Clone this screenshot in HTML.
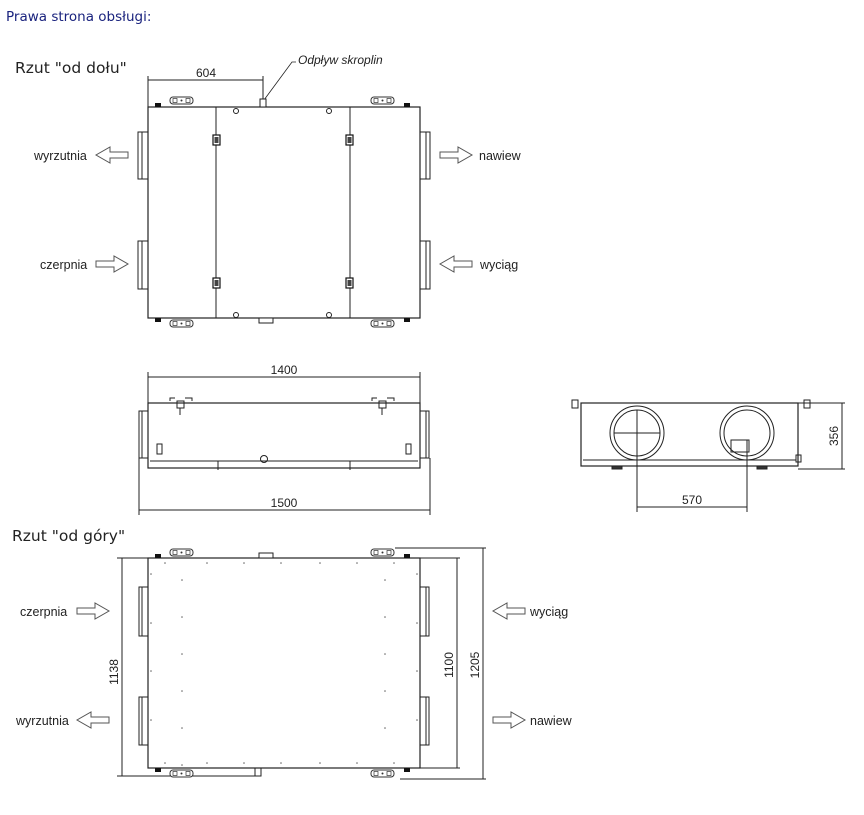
<!DOCTYPE html>
<html><head><meta charset="utf-8"><style>
html,body{margin:0;padding:0;background:#fff;width:864px;height:815px;overflow:hidden}
svg{display:block}
text{font-family:"Liberation Sans",Arial,sans-serif;fill:#222}
</style></head><body>
<svg width="864" height="815" viewBox="0 0 864 815" xmlns="http://www.w3.org/2000/svg">
<defs>
<g id="arrR"><path d="M0,-3 H18 V-8 L32,0 L18,8 V3 H0 Z" fill="#fff" stroke="#555" stroke-width="1"/></g>
<g id="arrL"><path d="M32,-3 H14 V-8 L0,0 L14,8 V3 H32 Z" fill="#fff" stroke="#555" stroke-width="1"/></g>
<g id="brk"><rect x="0" y="0" width="23" height="7" rx="3" fill="#fff" stroke="#333" stroke-width="1"/><rect x="3" y="1.5" width="4" height="4" fill="none" stroke="#333" stroke-width="0.7"/><rect x="16" y="1.5" width="4" height="4" fill="none" stroke="#333" stroke-width="0.7"/><circle cx="11.5" cy="3.5" r="1" fill="#333"/></g>
<g id="hinge"><rect x="0" y="0" width="7" height="10" fill="#fff" stroke="#111" stroke-width="1.2"/><rect x="1.5" y="2" width="4" height="6" fill="#444"/></g>
</defs>
<text x="6" y="21" font-size="13.5" style="font-family:'DejaVu Sans',sans-serif;fill:#1a237e" >Prawa strona obsługi:</text>

<!-- TOP VIEW -->
<text x="15" y="73" font-size="15.5" style="font-family:'DejaVu Sans',sans-serif;fill:#222">Rzut "od dołu"</text>
<g stroke="#222" stroke-width="1" fill="none">
<line x1="148" y1="76" x2="148" y2="107"/><line x1="263" y1="76" x2="263" y2="100"/>
<line x1="148" y1="80" x2="263" y2="80"/>
<path d="M264,100 L292,62 L296,62" stroke-width="0.8"/>
<rect x="148" y="107" width="272" height="211" stroke-width="1.2"/>
<line x1="216" y1="107" x2="216" y2="318"/><line x1="350" y1="107" x2="350" y2="318"/>
<rect x="260" y="99" width="6" height="8" fill="#fff"/>
<rect x="138" y="132" width="10" height="47"/><line x1="142" y1="132" x2="142" y2="179"/>
<rect x="138" y="241" width="10" height="48"/><line x1="142" y1="241" x2="142" y2="289"/>
<rect x="420" y="132" width="10" height="47"/><line x1="426" y1="132" x2="426" y2="179"/>
<rect x="420" y="241" width="10" height="48"/><line x1="426" y1="241" x2="426" y2="289"/>
<circle cx="236" cy="111" r="2.5"/><circle cx="329" cy="111" r="2.5"/>
<circle cx="236" cy="315" r="2.5"/><circle cx="329" cy="315" r="2.5"/>
</g>
<use href="#brk" x="170" y="97"/><use href="#brk" x="371" y="97"/>
<use href="#brk" x="170" y="320"/><use href="#brk" x="371" y="320"/>
<rect x="155" y="103" width="6" height="4" fill="#111"/><rect x="404" y="103" width="6" height="4" fill="#111"/>
<rect x="155" y="318" width="6" height="4" fill="#111"/><rect x="404" y="318" width="6" height="4" fill="#111"/>
<rect x="259" y="318" width="14" height="5" fill="#fff" stroke="#222"/>
<use href="#hinge" x="213" y="135"/><use href="#hinge" x="213" y="278"/>
<use href="#hinge" x="346" y="135"/><use href="#hinge" x="346" y="278"/>
<text x="206" y="77" font-size="12" text-anchor="middle">604</text>
<text x="298" y="64" font-size="12" font-style="italic">Odpływ skroplin</text>
<text x="34" y="160" font-size="12.5">wyrzutnia</text><use href="#arrL" x="96" y="155"/>
<text x="40" y="269" font-size="12.5">czerpnia</text><use href="#arrR" x="96" y="264"/>
<use href="#arrR" x="440" y="155"/><text x="479" y="160" font-size="12.5">nawiew</text>
<use href="#arrL" x="440" y="264"/><text x="480" y="269" font-size="12.5">wyciąg</text>

<!-- FRONT VIEW -->
<g stroke="#222" stroke-width="1" fill="none">
<line x1="148" y1="372" x2="148" y2="403"/><line x1="420" y1="372" x2="420" y2="403"/>
<line x1="148" y1="377" x2="420" y2="377"/>
<rect x="148" y="403" width="272" height="65" stroke-width="1.2"/>
<line x1="150" y1="461" x2="418" y2="461"/>
<rect x="139" y="411" width="9" height="47"/><line x1="142" y1="411" x2="142" y2="458"/>
<rect x="420" y="411" width="9" height="47"/><line x1="426" y1="411" x2="426" y2="458"/>
<line x1="139" y1="458" x2="139" y2="515"/><line x1="430" y1="458" x2="430" y2="515"/>
<line x1="139" y1="510" x2="430" y2="510"/>
<circle cx="264" cy="459" r="3.5"/>
<path d="M170,401 V398 H175 M185,398 H192 V401"/><rect x="177" y="401" width="7" height="7"/><line x1="180" y1="408" x2="180" y2="415"/>
<path d="M372,401 V398 H377 M387,398 H394 V401"/><rect x="379" y="401" width="7" height="7"/><line x1="382" y1="408" x2="382" y2="415"/>
<rect x="157" y="444" width="5" height="10"/><rect x="406" y="444" width="5" height="10"/>
<line x1="218" y1="461" x2="218" y2="470"/><line x1="350" y1="461" x2="350" y2="470"/>
</g>
<text x="284" y="374" font-size="12" text-anchor="middle">1400</text>
<text x="284" y="507" font-size="12" text-anchor="middle">1500</text>

<!-- SIDE VIEW -->
<g stroke="#222" stroke-width="1" fill="none">
<rect x="581" y="403" width="217" height="63" stroke-width="1.2"/>
<line x1="583" y1="460" x2="796" y2="460"/>
<circle cx="637" cy="433" r="27"/><circle cx="637" cy="433" r="23"/>
<line x1="614" y1="433" x2="660" y2="433"/><line x1="637" y1="410" x2="637" y2="456"/>
<circle cx="747" cy="433" r="27"/><circle cx="747" cy="433" r="23"/>
<rect x="731" y="440" width="18" height="12"/>
<line x1="637" y1="456" x2="637" y2="512"/><line x1="747" y1="440" x2="747" y2="512"/>
<line x1="637" y1="507" x2="747" y2="507"/>
<line x1="798" y1="403" x2="845" y2="403"/><line x1="798" y1="469" x2="845" y2="469"/>
<line x1="842" y1="403" x2="842" y2="469"/>
<rect x="572" y="400" width="6" height="8"/><rect x="804" y="400" width="6" height="8"/>
<rect x="796" y="455" width="5" height="7"/>
<rect x="612" y="466" width="10" height="3" fill="#333"/><rect x="757" y="466" width="10" height="3" fill="#333"/>
</g>
<text x="692" y="504" font-size="12" text-anchor="middle">570</text>
<text x="0" y="0" font-size="12" text-anchor="middle" transform="translate(838,436) rotate(-90)">356</text>

<!-- BOTTOM VIEW -->
<text x="12" y="541" font-size="15.5" style="font-family:'DejaVu Sans',sans-serif;fill:#222">Rzut "od góry"</text>
<g stroke="#222" stroke-width="1" fill="none">
<rect x="148" y="558" width="272" height="210" stroke-width="1.2"/>
<rect x="139" y="587" width="9" height="49"/><line x1="142" y1="587" x2="142" y2="636"/>
<rect x="139" y="697" width="9" height="48"/><line x1="142" y1="697" x2="142" y2="745"/>
<rect x="420" y="587" width="9" height="49"/><line x1="426" y1="587" x2="426" y2="636"/>
<rect x="420" y="697" width="9" height="48"/><line x1="426" y1="697" x2="426" y2="745"/>
<line x1="117" y1="558" x2="148" y2="558"/><line x1="117" y1="776" x2="255" y2="776"/>
<line x1="122" y1="558" x2="122" y2="776"/>
<line x1="420" y1="558" x2="460" y2="558"/><line x1="420" y1="768" x2="460" y2="768"/>
<line x1="457" y1="558" x2="457" y2="768"/>
<line x1="395" y1="548" x2="486" y2="548"/><line x1="400" y1="779" x2="486" y2="779"/>
<line x1="483" y1="548" x2="483" y2="779"/>
<rect x="255" y="768" width="6" height="8"/>
<rect x="259" y="553" width="14" height="5" fill="#fff"/>
</g>
<g fill="#666">
<circle cx="165" cy="563" r="0.8"/><circle cx="207" cy="563" r="0.8"/><circle cx="244" cy="563" r="0.8"/><circle cx="281" cy="563" r="0.8"/><circle cx="320" cy="563" r="0.8"/><circle cx="357" cy="563" r="0.8"/><circle cx="394" cy="563" r="0.8"/>
<circle cx="165" cy="763" r="0.8"/><circle cx="207" cy="763" r="0.8"/><circle cx="244" cy="763" r="0.8"/><circle cx="281" cy="763" r="0.8"/><circle cx="320" cy="763" r="0.8"/><circle cx="357" cy="763" r="0.8"/><circle cx="394" cy="763" r="0.8"/>
<circle cx="182" cy="580" r="0.8"/><circle cx="182" cy="617" r="0.8"/><circle cx="182" cy="654" r="0.8"/><circle cx="182" cy="691" r="0.8"/><circle cx="182" cy="728" r="0.8"/><circle cx="182" cy="765" r="0.8"/>
<circle cx="385" cy="580" r="0.8"/><circle cx="385" cy="617" r="0.8"/><circle cx="385" cy="654" r="0.8"/><circle cx="385" cy="691" r="0.8"/><circle cx="385" cy="728" r="0.8"/>
<circle cx="151" cy="574" r="0.8"/><circle cx="151" cy="623" r="0.8"/><circle cx="151" cy="671" r="0.8"/><circle cx="151" cy="720" r="0.8"/>
<circle cx="417" cy="574" r="0.8"/><circle cx="417" cy="623" r="0.8"/><circle cx="417" cy="671" r="0.8"/><circle cx="417" cy="720" r="0.8"/>
</g>
<use href="#brk" x="170" y="549"/><use href="#brk" x="371" y="549"/>
<use href="#brk" x="170" y="770"/><use href="#brk" x="371" y="770"/>
<rect x="155" y="554" width="6" height="4" fill="#111"/><rect x="404" y="554" width="6" height="4" fill="#111"/>
<rect x="155" y="768" width="6" height="4" fill="#111"/><rect x="404" y="768" width="6" height="4" fill="#111"/>
<text x="0" y="0" font-size="12" text-anchor="middle" transform="translate(118,672) rotate(-90)">1138</text>
<text x="0" y="0" font-size="12" text-anchor="middle" transform="translate(453,665) rotate(-90)">1100</text>
<text x="0" y="0" font-size="12" text-anchor="middle" transform="translate(479,665) rotate(-90)">1205</text>
<text x="20" y="616" font-size="12.5">czerpnia</text><use href="#arrR" x="77" y="611"/>
<text x="16" y="725" font-size="12.5">wyrzutnia</text><use href="#arrL" x="77" y="720"/>
<use href="#arrL" x="493" y="611"/><text x="530" y="616" font-size="12.5">wyciąg</text>
<use href="#arrR" x="493" y="720"/><text x="530" y="725" font-size="12.5">nawiew</text>
</svg>
</body></html>
